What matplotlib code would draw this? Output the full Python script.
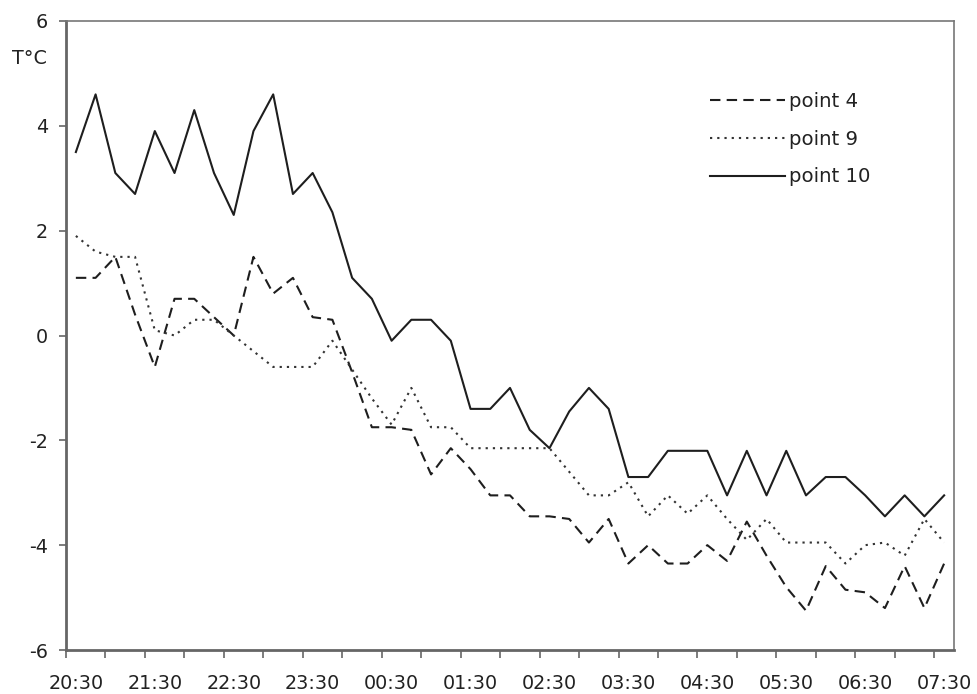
import matplotlib
matplotlib.use("Agg")
import matplotlib.pyplot as plt
from matplotlib.ticker import FixedLocator, NullFormatter

plt.rcParams['font.family'] = ['DejaVu Sans']
plt.rcParams['axes.unicode_minus'] = False
plt.rcParams['lines.scale_dashes'] = False

# 15-minute categories, 20:30 -> 07:30
times = ["20:30", "20:45", "21:00", "21:15", "21:30", "21:45", "22:00", "22:15",
         "22:30", "22:45", "23:00", "23:15", "23:30", "23:45", "00:00", "00:15",
         "00:30", "00:45", "01:00", "01:15", "01:30", "01:45", "02:00", "02:15",
         "02:30", "02:45", "03:00", "03:15", "03:30", "03:45", "04:00", "04:15",
         "04:30", "04:45", "05:00", "05:15", "05:30", "05:45", "06:00", "06:15",
         "06:30", "06:45", "07:00", "07:15", "07:30"]

point4 = [1.1, 1.1, 1.5, 0.4, -0.6, 0.7, 0.7, 0.35, 0.0, 1.5,
          0.8, 1.1, 0.35, 0.3, -0.7, -1.75, -1.75, -1.8, -2.65, -2.15,
          -2.55, -3.05, -3.05, -3.45, -3.45, -3.5, -3.95, -3.5, -4.35, -4.0,
          -4.35, -4.35, -4.0, -4.3, -3.55, -4.2, -4.8, -5.25, -4.4, -4.85,
          -4.9, -5.2, -4.4, -5.2, -4.35]

point9 = [1.9, 1.6, 1.5, 1.5, 0.1, 0.0, 0.3, 0.3, 0.0, -0.3,
          -0.6, -0.6, -0.6, -0.1, -0.65, -1.2, -1.7, -1.0, -1.75, -1.75,
          -2.15, -2.15, -2.15, -2.15, -2.15, -2.6, -3.05, -3.05, -2.8, -3.45,
          -3.05, -3.4, -3.05, -3.5, -3.9, -3.5, -3.95, -3.95, -3.95, -4.35,
          -4.0, -3.95, -4.2, -3.5, -3.95]

point10 = [3.5, 4.6, 3.1, 2.7, 3.9, 3.1, 4.3, 3.1, 2.3, 3.9,
           4.6, 2.7, 3.1, 2.35, 1.1, 0.7, -0.1, 0.3, 0.3, -0.1,
           -1.4, -1.4, -1.0, -1.8, -2.15, -1.45, -1.0, -1.4, -2.7, -2.7,
           -2.2, -2.2, -2.2, -3.05, -2.2, -3.05, -2.2, -3.05, -2.7, -2.7,
           -3.05, -3.45, -3.05, -3.45, -3.05]

series_labels = ["point 4", "point 9", "point 10"]
y_ticks = [-6, -4, -2, 0, 2, 4, 6]

W, H = 978, 694
fig = plt.figure(figsize=(W / 100, H / 100), dpi=100)
ax = fig.add_axes([66 / W, 1 - 650 / H, (954 - 66) / W, (650 - 21) / H])

x = list(range(len(times)))
col = '#1e1e1e'
ax.plot(x, point4, color=col, lw=1.5, dashes=(7.5, 4.5), label=series_labels[0])
ax.plot(x, point9, color='#333333', lw=1.5, dashes=(1.6, 3.6), label=series_labels[1])
ax.plot(x, point10, color=col, lw=1.5, label=series_labels[2])

ax.set_xlim(-0.5, len(times) - 0.5)
ax.set_ylim(-6, 6)

# x: labels every hour at category centres, tick marks every 2 categories
lab_pos = list(range(0, len(times), 4))
ax.set_xticks(lab_pos)
ax.set_xticklabels([times[i] for i in lab_pos])
ax.xaxis.set_minor_locator(FixedLocator([i - 0.5 for i in range(0, len(times), 2)]))
ax.xaxis.set_minor_formatter(NullFormatter())
ax.tick_params(axis='x', which='major', length=0, pad=17, labelsize=13.8, colors='#222')
ax.tick_params(axis='x', which='minor', length=6, width=1.2, direction='out', color='#666')

ax.set_yticks(y_ticks)
ax.set_yticklabels([str(v) for v in y_ticks])
ax.tick_params(axis='y', length=5, width=1.2, direction='out', pad=8, labelsize=13.8,
               colors='#222')
ax.tick_params(axis='y', color='#666')

for side in ['left', 'bottom']:
    ax.spines[side].set_linewidth(2.0)
    ax.spines[side].set_color('#666')
for side in ['top', 'right']:
    ax.spines[side].set_linewidth(1.2)
    ax.spines[side].set_color('#777')

fig.text(12 / W, 1 - 58 / H, "T°C", ha='left', va='center', fontsize=13.8, color='#222')

leg = ax.legend(loc='upper left', bbox_to_anchor=(710 / W, 1 - 92 / H),
                bbox_transform=fig.transFigure, frameon=False, fontsize=14.2,
                handlelength=3.8, handletextpad=0.2, labelspacing=0.95,
                borderpad=0, borderaxespad=0)
for t in leg.get_texts():
    t.set_color('#222')

fig.savefig("out.png", dpi=100, facecolor='white')
